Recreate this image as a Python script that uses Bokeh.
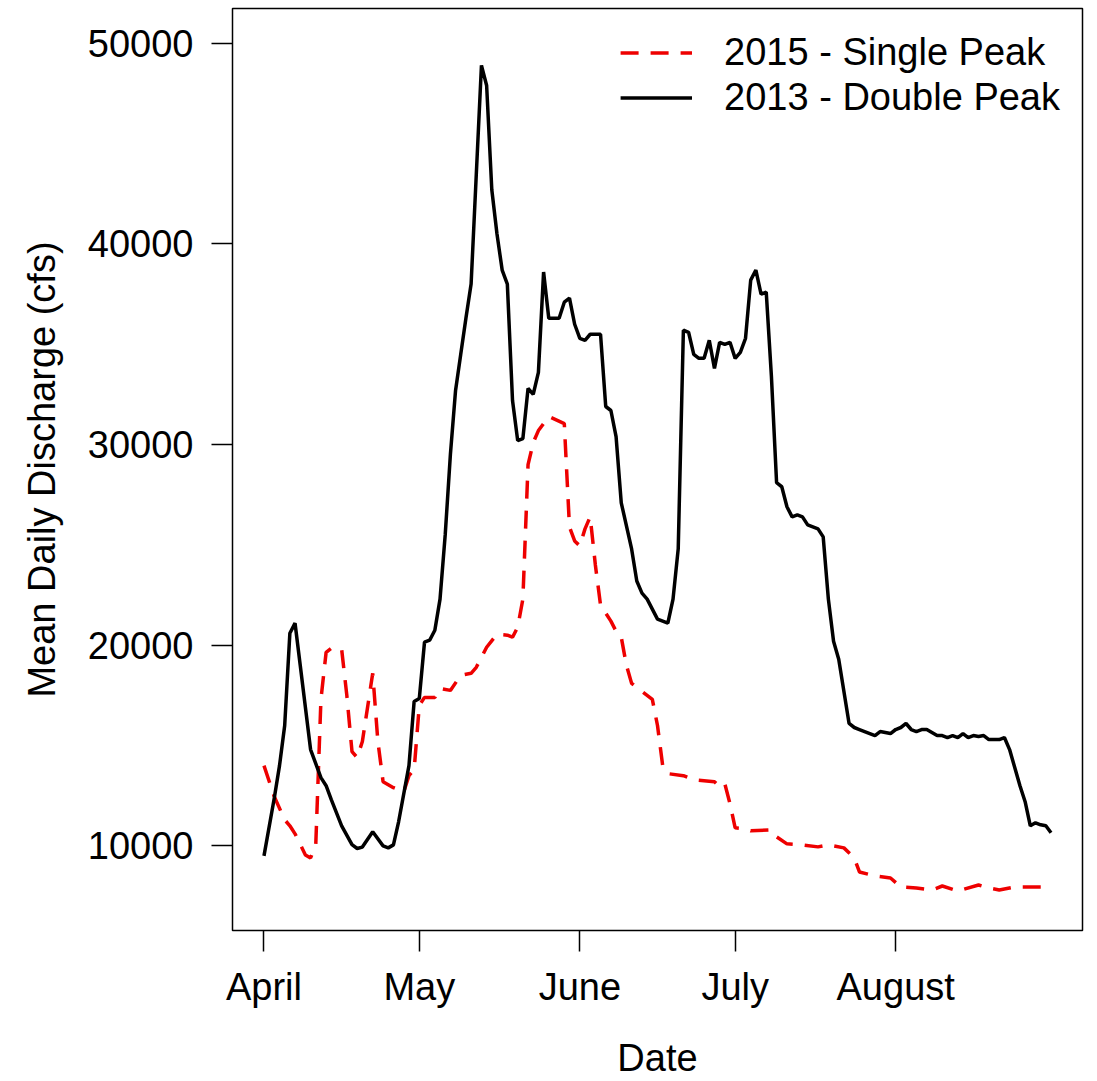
from bokeh.plotting import figure
from bokeh.models import Range1d, FixedTicker, Legend, LegendItem
from bokeh.embed import file_html
from bokeh.resources import INLINE

# Days counted from April 1; vertices of the daily mean discharge traces (cfs)
days_2013 = [0, 2, 3, 4, 5, 6, 7, 9, 10, 11, 12, 13, 15, 17, 18, 19, 21, 23, 24, 25,
             26, 28, 29, 30, 31, 32, 33, 34, 35, 36, 37, 38, 39, 40, 42, 43, 44, 45,
             46, 47, 48, 49, 50, 51, 52, 53, 54, 55, 57, 58, 59, 60, 61, 62, 63, 65,
             66, 67, 68, 69, 71, 72, 73, 74, 76, 78, 79, 80, 81, 82, 83, 84, 85, 86,
             87, 88, 89, 90, 91, 92, 93, 94, 95, 96, 97, 98, 99, 100, 101, 102, 103,
             104, 105, 106, 107, 108, 109, 110, 111, 113, 114, 115, 117, 118, 119,
             121, 122, 123, 124, 125, 126, 127, 128, 130, 131, 132, 133, 134, 135,
             136, 137, 138, 139, 140, 142, 143, 144, 146, 147, 148, 149, 150, 151, 152]
flow_2013 = [9500, 12400, 14000, 16000, 20600, 21100, 19000, 14800, 14100, 13400, 13000,
             12300, 11000, 10060, 9870, 9940, 10700, 10000, 9900, 10050,
             11200, 14000, 17200, 17350, 20150, 20250, 20750, 22300, 25500, 29500, 32700,
             34500, 36300, 38000, 48900, 47900, 42700, 40500,
             38700, 38000, 32200, 30200, 30300, 32800, 32500, 33600, 38600, 36300, 36300,
             37100, 37300, 36000, 35300, 35200, 35500, 35500,
             31900, 31700, 30400, 27100, 24800, 23200, 22600, 22300, 21300, 21100, 22300,
             24800, 35700, 35600, 34500, 34300, 34300, 35200,
             33800, 35100, 35000, 35100, 34300, 34600, 35300, 38200, 38700, 37500, 37600,
             33400, 28100, 27900, 26900, 26400, 26500,
             26400, 26000, 25900, 25800, 25400, 22300, 20200, 19300, 16100, 15900, 15800,
             15600, 15500, 15700,
             15600, 15800, 15900, 16100, 15800, 15700, 15800, 15800, 15500, 15500, 15400,
             15500, 15400, 15600,
             15400, 15500, 15450, 15500, 15300, 15300, 15400, 14800, 13000, 12200, 11000,
             11150, 11050, 11000, 10650]

days_2015 = [0, 2, 4, 5, 6, 8, 9, 10, 11, 12, 13, 15, 16, 17, 18, 19, 21, 22, 23, 25,
             27, 28, 29, 30, 31, 33, 34, 36, 38, 40, 41, 43, 45, 47, 48, 49, 50, 51,
             52, 53, 55, 58, 59, 60, 61, 62, 63, 64, 65, 67, 68, 69, 70, 71, 73, 75,
             76, 77, 78, 81, 83, 87, 88, 89, 90, 91, 93, 94, 98, 99, 101, 104, 107,
             109, 112, 114, 115, 118, 121, 123, 126, 129, 131, 134, 138, 140, 142,
             145, 148, 152]
flow_2015 = [14000, 12450, 11300, 11000, 10600, 9550, 9400, 10050, 17300, 19650, 19850,
             19800, 17500, 14700, 14400, 15200, 18600, 15200, 13200, 12900,
             12700, 13500, 13800, 17000, 17400, 17400, 17850, 17750, 18500, 18600, 18900,
             19900, 20550, 20500, 20400, 20900, 22300, 29000,
             30100, 30700, 31400, 31050, 25900, 25200, 24950, 25800, 26400, 24000, 22000,
             21200, 20700, 20400, 19000, 18100, 17700, 17300,
             16000, 14000, 13600, 13500, 13300, 13200, 12950, 13100, 12100, 10900, 10850,
             10750, 10800, 10450, 10100, 10050, 9950,
             10050, 9900, 9400, 8700, 8500, 8400, 7950, 7900, 7800, 8000, 7750, 8050,
             7900, 7800, 7950, 7950, 7950]

month_days = [0, 30, 61, 91, 122]
month_names = ["April", "May", "June", "July", "August"]
y_ticks = [10000, 20000, 30000, 40000, 50000]

FONT = "Liberation Sans"
FS = "38px"

p = figure(width=1097, height=1081, output_backend="svg", toolbar_location=None,
           x_range=Range1d(-6.08, 158.08), y_range=Range1d(5782, 51737),
           min_border_left=232, min_border_right=15, min_border_top=8,
           min_border_bottom=148)
p.background_fill_color = "white"
p.border_fill_color = "white"
p.xgrid.visible = False
p.ygrid.visible = False
p.outline_line_color = "black"
p.outline_line_width = 1.5

r15 = p.line(days_2015, flow_2015, line_color="#ee0000", line_width=3.5,
             line_dash="18 12")
r13 = p.line(days_2013, flow_2013, line_color="black", line_width=3.5)

for ax in (p.xaxis[0], p.yaxis[0]):
    ax.axis_line_color = None
    ax.major_tick_line_color = "black"
    ax.major_tick_line_width = 1.5
    ax.major_tick_in = 0
    ax.major_tick_out = 21
    ax.minor_tick_line_color = None
    ax.major_label_text_font = FONT
    ax.major_label_text_font_size = FS
    ax.major_label_text_color = "black"
    ax.axis_label_text_font = FONT
    ax.axis_label_text_font_size = FS
    ax.axis_label_text_font_style = "normal"
    ax.axis_label_text_color = "black"

p.xaxis.ticker = FixedTicker(ticks=month_days)
p.xaxis.major_label_overrides = {d: n for d, n in zip(month_days, month_names)}
p.xaxis.axis_label = "Date"
p.xaxis.major_label_standoff = 14
p.xaxis.axis_label_standoff = 26

p.yaxis.ticker = FixedTicker(ticks=y_ticks)
p.yaxis.major_label_overrides = {v: str(v) for v in y_ticks}
p.yaxis.axis_label = "Mean Daily Discharge (cfs)"
p.yaxis.major_label_standoff = 18
p.yaxis.axis_label_standoff = 22

legend = Legend(items=[LegendItem(label="2015 - Single Peak", renderers=[r15]),
                       LegendItem(label="2013 - Double Peak", renderers=[r13])],
                location="top_right", border_line_color=None,
                background_fill_alpha=0, label_text_font=FONT,
                label_text_font_size=FS, label_text_color="black",
                glyph_width=72, glyph_height=45,
                label_height=45, label_standoff=32, spacing=0, padding=18,
                margin=22)
p.add_layout(legend)

open("out.html", "w").write(file_html(p, INLINE))
